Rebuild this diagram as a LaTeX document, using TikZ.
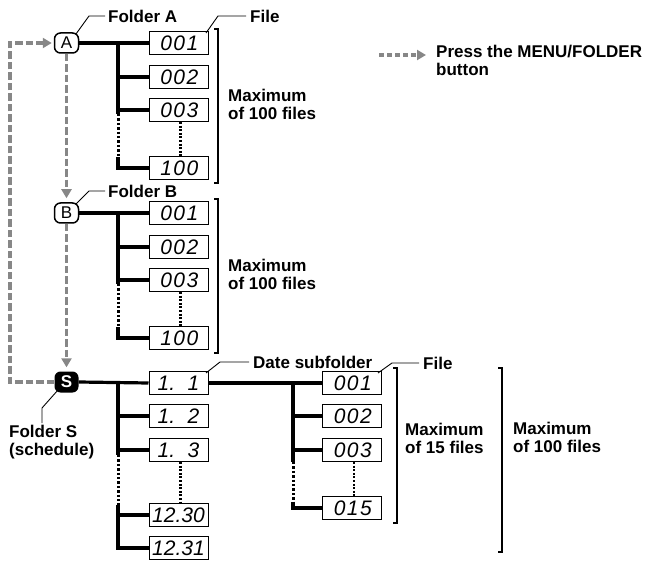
\documentclass[tikz,border=0pt]{standalone}
\usepackage{fontspec}
\setmainfont{Liberation Sans}
\newfontfamily\lcdwide[LetterSpace=7]{Liberation Sans}
\usetikzlibrary{arrows.meta}
\definecolor{dgray}{RGB}{135,135,135}
\newcommand\labfont{\bfseries\fontsize{17}{18}\selectfont}
\newcommand\lcdfont{\itshape\fontsize{21}{21}\selectfont}
\newcommand\fldfont{\fontsize{17}{17}\selectfont}
\newcommand\lcdnum[1]{{\lcdwide\itshape\fontsize{21}{21}\selectfont\hspace{1.5pt}#1}}
\tikzset{
  tree/.style={line width=3.2pt},
  dots/.style={line width=3pt, dash pattern=on 2.4pt off 2pt},
  thindots/.style={line width=2.2pt, dash pattern=on 2pt off 1.6pt},
  gdash/.style={draw=dgray, line width=3.4pt, dash pattern=on 7.5pt off 3pt},
  garrow/.style={gdash, -{Triangle[width=10pt,length=9pt]}},
  filebox/.style={draw, line width=1pt, minimum width=59pt, minimum height=22.5pt, inner sep=0pt, font=\lcdfont, fill=white},
  folder/.style={draw, line width=1.5pt, rounded corners=6pt, minimum width=24pt, minimum height=20pt, inner sep=0pt, font=\fldfont, fill=white},
  snode/.style={fill=black, text=white, rounded corners=6pt, minimum width=24pt, minimum height=21pt, inner sep=0pt, font=\bfseries\fldfont},
  lbl/.style={font=\labfont, inner sep=0pt, anchor=west, align=left},
  leader/.style={line width=0.9pt},
  brack/.style={line width=1.1pt}
}
\begin{document}
\begin{tikzpicture}[x=1pt,y=-1pt]
\useasboundingbox (0,0) rectangle (658,561);

% ---- Folders A and B ----
\foreach \g/\y in {A/43,B/213}{
  \node[folder] (\g) at (66.5,\y) {\g};
  \node[filebox] (\g1) at (178.5,\y) {\lcdnum{001}};
  \node[filebox] (\g2) at (178.5,\y+34) {\lcdnum{002}};
  \node[filebox] (\g3) at (178.5,\y+67) {\lcdnum{003}};
  \node[filebox] (\g4) at (178.5,\y+125) {\lcdnum{100}};
  \coordinate (\g-j) at (118,\y);
  \coordinate (\g-d1) at (118,\y+71);
  \coordinate (\g-d2) at (118,\y+114);
  \draw[tree] (\g.east) -- (\g1.west);
  \draw[tree] (\g-j) |- (\g2.west);
  \draw[tree] (\g-j) |- (\g3.west);
  \draw[tree] (\g-j) -- (\g-d1);
  \draw[dots] (\g-d1) -- (\g-d2);
  \draw[tree] (\g-d2) |- (\g4.west);
  \draw[thindots] (180.5,\y+79) -- (180.5,\y+114);
  \draw[brack] (214,\y-14) -- (218,\y-14) -- (218,\y+140) -- (214,\y+140);
  \node[lbl] at (228,\y+61) {Maximum\\of 100 files};
}

% labels for A and B
\node[lbl] (fa) at (108,16) {Folder A};
\draw[leader] (76,34) -- (89,16) -- ([xshift=-3pt]fa.west);
\node[lbl] (fileA) at (250,16) {File};
\draw[leader] (206,33) -- (218,16) -- ([xshift=-4pt]fileA.west);
\node[lbl] (fb) at (108,191) {Folder B};
\draw[leader] (76,204) -- (89,191) -- ([xshift=-3pt]fb.west);

% ---- Folder S ----
\node[snode] (S) at (66.5,382) {S};
\node[filebox] (d1) at (178.5,383) {1.\hspace{0.6em}1};
\node[filebox] (d2) at (178.5,416) {1.\hspace{0.6em}2};
\node[filebox] (d3) at (178.5,450) {1.\hspace{0.6em}3};
\node[filebox] (d4) at (178.5,515) {12.30};
\node[filebox] (d5) at (178.5,548) {12.31};
\coordinate (S-j) at (118,383);
\coordinate (S-d1) at (118,455);
\coordinate (S-d2) at (118,505);
\draw[tree] (S.east) -- (d1.west);
\draw[tree] (S-j) |- (d2.west);
\draw[tree] (S-j) |- (d3.west);
\draw[tree] (S-j) -- (S-d1);
\draw[dots] (S-d1) -- (S-d2);
\draw[tree] (S-d2) |- (d4.west);
\draw[tree] (S-d2) |- (d5.west);
\draw[thindots] (180.5,462) -- (180.5,503);

% subfolder files
\node[filebox] (f1) at (352,383) {\lcdnum{001}};
\node[filebox] (f2) at (352,416) {\lcdnum{002}};
\node[filebox] (f3) at (352,450) {\lcdnum{003}};
\node[filebox] (f4) at (352,508) {\lcdnum{015}};
\coordinate (F-j) at (293,383);
\coordinate (F-d1) at (293,462);
\coordinate (F-d2) at (293,502);
\draw[tree] (d1.east) -- (f1.west);
\draw[tree] (F-j) |- (f2.west);
\draw[tree] (F-j) |- (f3.west);
\draw[tree] (F-j) -- (F-d1);
\draw[dots] (F-d1) -- (F-d2);
\draw[tree] (F-d2) |- (f4.west);
\draw[thindots] (354,462) -- (354,497);

% brackets for S
\draw[brack] (393,368) -- (397,368) -- (397,523) -- (393,523);
\node[lbl] at (405,438) {Maximum\\of 15 files};
\draw[brack] (498,368) -- (502,368) -- (502,552) -- (498,552);
\node[lbl] at (513,437) {Maximum\\of 100 files};

% labels for S
\node[lbl] (ds) at (253,362) {Date subfolder};
\draw[leader] (206,373) -- (220,362) -- ([xshift=-4pt]ds.west);
\node[lbl] (fileS) at (423,363) {File};
\draw[leader] (378,373) -- (392,363) -- ([xshift=-4pt]fileS.west);
\node[lbl, anchor=north west] (fs) at (9,425) {Folder S\\(schedule)};
\draw[leader] (58,390) -- (42,408) -- (42,423);

% ---- grey dashed arrows ----
\coordinate (lb) at (10,382);
\coordinate (lt) at (10,43);
\draw[garrow, shorten >=4pt] (A.south) -- (B.north);
\draw[garrow, shorten >=4pt] (B.south) -- (S.north);
\draw[garrow, shorten >=2pt] (S.west) -- (lb) -- (lt) -- (A.west);

% legend
\coordinate (lg) at (379,55);
\node[lbl] (leg) at (436,60) {Press the MENU/FOLDER\\button};
\draw[garrow, dash pattern=on 5pt off 3pt] (lg) -- ([xshift=-10pt]leg.west |- lg);
\end{tikzpicture}
\end{document}
